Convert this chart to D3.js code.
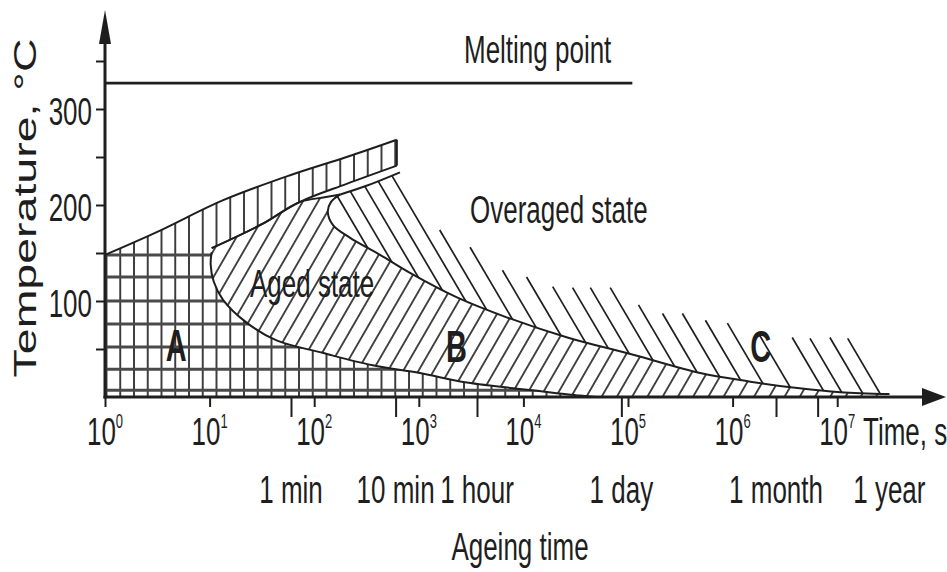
<!DOCTYPE html>
<html>
<head>
<meta charset="utf-8">
<script src="https://cdn.jsdelivr.net/npm/d3@7"></script>
<style>
  html, body { margin: 0; background: #fff; }
  svg { display: block; }
  text { font-family: "Liberation Sans", Arial, Helvetica, sans-serif; fill: #1e1e1e; }
</style>
</head>
<body>
<svg id="chart" width="947" height="572"></svg>
<script>
// Temperature / ageing-time diagram (log time axis)
const decades = [0, 1, 2, 3, 4, 5, 6, 7];
const tempTicks = [50, 100, 150, 200, 250, 300, 350];
const tempLabels = [100, 200, 300];
const timeMarkTicks = [60, 600, 3600, 86400, 2.6e6, 6.5e6];
const timeMarkLabels = ["1 min", "10 min", "1 hour", "1 day", "1 month", "1 year"];
const timeMarkSeconds = [60, 600, 3600, 86400, 2.6e6, 3.15e7];
const meltingPoint = 327;
const meltingEnd = 1.1e5;

// Boundary curves: [log10(time, s), temperature °C]
const upperA = [[0, 148], [0.5, 172], [1.13, 205], [1.77, 231], [2.31, 250], [2.79, 268]];
const bandBottom = [[1.02, 155], [1.5, 180], [1.86, 203], [2.31, 222], [2.79, 241]];
const agedTopLeft = [[1.02, 155], [1.5, 180], [1.86, 203], [2.1, 208], [2.25, 211]];
const agedTopRight = [[2.25, 211], [2.5, 220], [2.82, 234]];
const overagedFront = [[2.25, 211], [2.16, 203], [2.13, 193], [2.18, 179], [2.34, 166], [2.63, 148],
  [2.92, 129], [3.36, 104], [3.84, 83], [4.42, 62], [5.05, 44], [5.69, 25], [6.17, 16],
  [6.64, 9], [7.03, 5], [7.5, 3]];
const agedBottom = [[1.02, 151], [1.01, 138], [1.04, 120], [1.13, 101], [1.36, 77], [1.64, 59],
  [2.08, 46], [2.56, 33], [3.01, 25], [3.46, 15], [4.09, 7], [4.54, 1.5], [4.7, 0]];
const gridTemps = [148, 125, 100, 76, 52, 29, 7];
// upper ends of the overaged-state hatch strokes
const overagedStrokeTops = [[2.20, 213], [2.33, 217], [2.47, 222], [2.60, 227], [2.73, 233],
  [3.20, 174], [3.49, 156], [3.80, 132], [4.03, 125], [4.28, 115], [4.47, 114], [4.64, 114],
  [4.83, 114], [5.10, 96], [5.33, 87], [5.52, 87], [5.74, 80], [5.95, 77], [6.26, 64],
  [6.57, 62], [6.74, 61], [6.93, 62], [7.10, 61]];
const regionLetters = [["A", 0.68, 38], ["B", 3.36, 36], ["C", 6.27, 36]];

const svg = d3.select("#chart");
const x = d3.scaleLog().domain([1, 1e8]).range([105, 941.8]);
const y = d3.scaleLinear().domain([0, 400]).range([397, 13]);
const px = d => x(Math.pow(10, d[0]));
const py = d => y(d[1]);
const INK = "#1e1e1e";

const smooth = d3.line().x(px).y(py).curve(d3.curveCatmullRom.alpha(0.5));
const straight = d3.line().x(px).y(py);
const join = (...parts) => parts.map((p, i) => i ? p.replace(/^M/, "L") : p).join("") + "Z";
const rev = a => a.slice().reverse();

const defs = svg.append("defs");
// vertical hatch
const pv = defs.append("pattern").attr("id", "vhatch").attr("patternUnits", "userSpaceOnUse")
  .attr("x", 105.5).attr("y", 0).attr("width", 13.75).attr("height", 10);
pv.append("line").attr("x1", 1).attr("x2", 1).attr("y1", 0).attr("y2", 10)
  .attr("stroke", INK).attr("stroke-width", 1.7);
// forward diagonal hatch
const pf = defs.append("pattern").attr("id", "fhatch").attr("patternUnits", "userSpaceOnUse")
  .attr("width", 13.2).attr("height", 20).attr("patternTransform", "rotate(30)");
pf.append("line").attr("x1", 6.6).attr("x2", 6.6).attr("y1", 0).attr("y2", 20)
  .attr("stroke", INK).attr("stroke-width", 1.6);

const regionA = join(
  straight([[0, 0], [0, 148]]), smooth(upperA),
  straight([upperA[upperA.length - 1], bandBottom[bandBottom.length - 1]]),
  smooth(rev(bandBottom)), smooth(agedBottom));
const regionB = join(
  smooth(agedTopLeft), smooth(overagedFront),
  straight([[7.5, 0], [4.7, 0]]), smooth(rev(agedBottom)));
const regionC = join(
  smooth(agedTopRight),
  straight([[2.82, 234], [2.82, 420], [7.6, 420], [7.5, 3]]),
  smooth(rev(overagedFront)));

defs.append("clipPath").attr("id", "clipA").append("path").attr("d", regionA);
defs.append("clipPath").attr("id", "clipC").append("path").attr("d", regionC);

// Region A: vertical hatch plus horizontal grid
svg.append("path").attr("d", regionA).attr("fill", "url(#vhatch)");
svg.append("g").attr("clip-path", "url(#clipA)")
  .selectAll("line").data(gridTemps).join("line")
  .attr("x1", x(1)).attr("x2", x(1e6)).attr("y1", d => y(d)).attr("y2", d => y(d))
  .attr("stroke", "#4a4a4a").attr("stroke-width", 3);

// Region B: forward hatch
svg.append("path").attr("d", regionB).attr("fill", "url(#fhatch)");

// Region C: back hatch strokes with ragged upper ends
svg.append("g").attr("clip-path", "url(#clipC)")
  .selectAll("line").data(overagedStrokeTops).join("line")
  .attr("x1", d => px(d)).attr("y1", d => py(d))
  .attr("x2", d => px(d) + 200).attr("y2", d => py(d) + 340)
  .attr("stroke", INK).attr("stroke-width", 1.7);

// Boundary outlines
const outline = svg.append("g").attr("fill", "none").attr("stroke", INK).attr("stroke-width", 2);
outline.append("path").attr("d", smooth(upperA));
outline.append("path").attr("d", straight([upperA[upperA.length - 1], bandBottom[bandBottom.length - 1]]));
outline.append("path").attr("d", smooth(bandBottom));
outline.append("path").attr("d", smooth(agedTopLeft));
outline.append("path").attr("d", smooth(agedTopRight));
outline.append("path").attr("d", smooth(overagedFront));
outline.append("path").attr("d", smooth(agedBottom));

// Melting point
svg.append("line").attr("x1", x(1)).attr("x2", x(meltingEnd))
  .attr("y1", y(meltingPoint)).attr("y2", y(meltingPoint))
  .attr("stroke", INK).attr("stroke-width", 2.6);

// Axes
const xAxis = svg.append("g").attr("transform", `translate(0,${y(0)})`)
  .call(d3.axisBottom(x).tickValues(decades.map(d => Math.pow(10, d))).tickSize(10).tickFormat(""));
xAxis.select(".domain").remove();
xAxis.selectAll(".tick line").attr("stroke", INK).attr("stroke-width", 2);
const xMarks = svg.append("g").attr("transform", `translate(0,${y(0)})`)
  .call(d3.axisBottom(x).tickValues(timeMarkTicks).tickSize(20).tickFormat(""));
xMarks.select(".domain").remove();
xMarks.selectAll(".tick line").attr("stroke", INK).attr("stroke-width", 2);

const yAxis = svg.append("g").attr("transform", `translate(${x(1)},0)`)
  .call(d3.axisLeft(y).tickValues(tempTicks).tickSize(9)
    .tickFormat(d => tempLabels.includes(d) ? d : ""));
yAxis.select(".domain").remove();
yAxis.selectAll(".tick line").attr("stroke", INK).attr("stroke-width", 2);
yAxis.selectAll(".tick text").attr("x", -13).attr("dy", null).attr("y", 10)
  .attr("font-size", 26).attr("font-family", null).attr("fill", INK)
  .attr("transform", "scale(1,1.5)");

svg.append("line").attr("x1", x(1)).attr("x2", x(1)).attr("y1", y(0) + 1.5).attr("y2", 30)
  .attr("stroke", INK).attr("stroke-width", 3);
svg.append("path").attr("fill", INK)
  .attr("d", `M${x(1)},10L${x(1) - 6},44L${x(1) + 6},44Z`);
svg.append("line").attr("x1", x(1) - 1.5).attr("x2", 930).attr("y1", y(0)).attr("y2", y(0))
  .attr("stroke", INK).attr("stroke-width", 3);
svg.append("path").attr("fill", INK)
  .attr("d", `M946,${y(0)}L922,${y(0) - 9}L922,${y(0) + 9}Z`);

// Text helper (tall, narrow lettering)
function label(str, tx, ty, opts = {}) {
  return svg.append("text")
    .attr("transform", `translate(${tx},${ty}) scale(1,1.5)`)
    .attr("font-size", opts.size || 26)
    .attr("text-anchor", opts.anchor || "start")
    .attr("font-weight", opts.weight || "normal")
    .text(str);
}

// Decade labels 10^n
decades.forEach(d => {
  const t = svg.append("text")
    .attr("transform", `translate(${x(Math.pow(10, d))},445) scale(1,1.5)`)
    .attr("font-size", 26).attr("text-anchor", "middle");
  t.append("tspan").text("10");
  t.append("tspan").attr("font-size", 13).attr("dy", -11.5).text(d);
});
label("Time, s", 863, 445);

timeMarkLabels.forEach((s, i) => label(s, x(timeMarkSeconds[i]), 503, { anchor: "middle" }));
label("Ageing time", 520, 560, { anchor: "middle" });

svg.append("text")
  .attr("transform", "translate(36,208) scale(1,1.5) rotate(-90)")
  .attr("font-size", 31).attr("text-anchor", "middle")
  .text("Temperature, °C");

label("Melting point", 464, 63);
label("Overaged state", 470, 223);
label("Aged state", 250, 297);

regionLetters.forEach(([s, lx, t]) => {
  label(s, x(Math.pow(10, lx)), y(t), { anchor: "middle", weight: "bold", size: 29 });
});
</script>
</body>
</html>
